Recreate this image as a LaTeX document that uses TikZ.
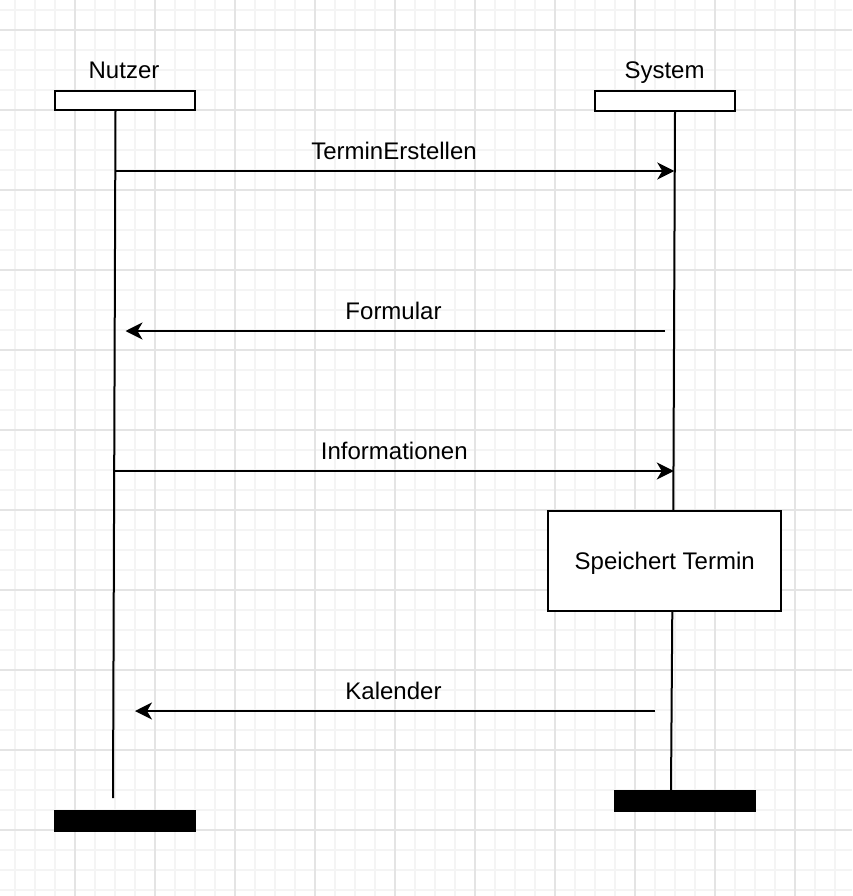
\documentclass[tikz,border=0pt]{standalone}
\usepackage{fontspec}
\setmainfont{Liberation Sans}
\usetikzlibrary{arrows.meta}
\definecolor{gridminor}{HTML}{F4F4F4}
\definecolor{gridmajor}{HTML}{E4E4E4}
\tikzset{
  lbl/.style={anchor=base, inner sep=0pt, font=\fontsize{24}{28}\selectfont},
  headbox/.style={draw=black, fill=white, line width=2pt, minimum width=139.5pt, minimum height=19.5pt, inner sep=0pt},
  endbar/.style={fill=black, draw=none, minimum width=142pt, minimum height=21.7pt, inner sep=0pt},
  actbox/.style={draw=black, fill=white, line width=2pt, minimum width=232.5pt, minimum height=99.7pt, inner sep=0pt, text depth=0pt, font=\fontsize{24}{28}\selectfont},
  life/.style={draw=black, line width=2pt},
  msg/.style={draw=black, line width=2pt, -{Stealth[length=17pt,width=17pt,inset=5pt]}},
  minorgrid/.style={draw=gridminor, line width=1.5pt},
  majorgrid/.style={draw=gridmajor, line width=1.5pt}
}
\begin{document}
\begin{tikzpicture}[x=1pt,y=-1pt]
\useasboundingbox (0,0) rectangle (852,896);
\fill[white] (0,0) rectangle (852,896);
% grid
\foreach \x in {15,35,...,851} \draw[minorgrid] (\x,0) -- (\x,896);
\foreach \y in {10,30,...,895} \draw[minorgrid] (0,\y) -- (852,\y);
\foreach \x in {75,155,...,851} \draw[majorgrid] (\x,0) -- (\x,896);
\foreach \y in {30,110,...,895} \draw[majorgrid] (0,\y) -- (852,\y);

% actor labels
\node[lbl] (nutzerlbl) at (124,79) {Nutzer};
\node[lbl] (systemlbl) at (664.5,79) {System};

% head boxes
\node[headbox] (nutzerhead) at (124.8,100.5) {};
\node[headbox] (systemhead) at (664.8,100.8) {};

% end bars
\node[endbar] (nutzerend) at (125,820.8) {};
\node[endbar] (systemend) at (685,800.8) {};

% activity box
\node[actbox] (store) at (664.7,560.8) {Speichert Termin};

% lifelines
\coordinate (nutzertop) at (115.5,111);
\coordinate (nutzerbot) at (113,798);
\coordinate (systemtop) at (675,111);
\coordinate (systemmid1) at (673.3,511);
\coordinate (systemmid2) at (672.3,611);
\coordinate (systembot) at (671,790);
\draw[life] (nutzertop) -- (nutzerbot);
\draw[life] (systemtop) -- (systemmid1);
\draw[life] (systemmid2) -- (systembot);

% messages
\coordinate (m1s) at (115.3,171);
\coordinate (m1e) at (674.3,171);
\coordinate (m2s) at (665,331);
\coordinate (m2e) at (125.5,331);
\coordinate (m3s) at (114.8,471);
\coordinate (m3e) at (673.8,471);
\coordinate (m4s) at (655,711);
\coordinate (m4e) at (135,711);
\draw[msg] (m1s) -- (m1e);
\draw[msg] (m2s) -- (m2e);
\draw[msg] (m3s) -- (m3e);
\draw[msg] (m4s) -- (m4e);

% message labels
\node[lbl] (l1) at (394,159.3) {TerminErstellen};
\node[lbl] (l2) at (393.5,319) {Formular};
\node[lbl] (l3) at (394.3,459) {Informationen};
\node[lbl] (l4) at (393.5,699) {Kalender};
\end{tikzpicture}
\end{document}
